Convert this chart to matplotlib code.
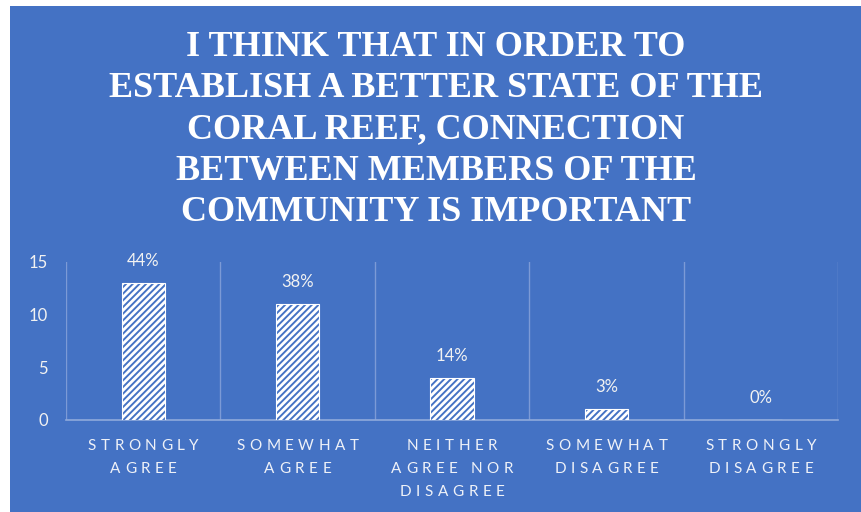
import matplotlib.pyplot as plt
import numpy as np
from matplotlib.patches import Rectangle
from matplotlib.font_manager import FontProperties
from matplotlib.transforms import blended_transform_factory, ScaledTranslation

# survey responses
categories = ['STRONGLY\nAGREE', 'SOMEWHAT\nAGREE', 'NEITHER\nAGREE NOR\nDISAGREE',
              'SOMEWHAT\nDISAGREE', 'STRONGLY\nDISAGREE']
counts = [13, 11, 4, 1, 0]
pct_labels = ['44%', '38%', '14%', '3%', '0%']
yticks = [0, 5, 10, 15]

title = ('I THINK THAT IN ORDER TO\nESTABLISH A BETTER STATE OF THE\nCORAL REEF, CONNECTION\n'
         'BETWEEN MEMBERS OF THE\nCOMMUNITY IS IMPORTANT')

blue = '#4472C4'
plt.rcParams['hatch.linewidth'] = 2.0
plt.rcParams['hatch.color'] = 'white'

fig = plt.figure(figsize=(8.62, 5.12), dpi=100, facecolor='white')
fig.patches.append(Rectangle((10 / 862, 0), 852 / 862, 506 / 512, transform=fig.transFigure,
                             facecolor=blue, edgecolor='none', zorder=-1))

fig.text(436 / 862, 1 - 130 / 512, title, ha='center', va='center', color='white',
         fontsize=26, fontweight='bold', family='Liberation Serif', linespacing=1.33)

ax = fig.add_axes([66 / 862, 1 - 420 / 512, 772 / 862, 158 / 512])
ax.set_facecolor('none')

x = np.arange(len(counts))
ax.bar(x, counts, width=0.28, color=blue, edgecolor='white', linewidth=0.8, hatch='/////', zorder=3)

for xi, c, lab in zip(x, counts, pct_labels):
    ax.annotate(lab, (xi, c), xytext=(0, 16), textcoords='offset points', ha='center', va='center',
                color='#F2F2F2', fontsize=12, family='Lato')

ax.set_xlim(-0.5, len(counts) - 0.5)
ax.set_ylim(0, 15)
ax.set_yticks(yticks)
ax.set_yticklabels([str(t) for t in yticks], color='#F2F2F2', fontsize=12, family='Lato')
ax.tick_params(axis='y', length=0, pad=13)
ax.set_xticks([])
ax.set_xticks(np.arange(-0.5, len(counts)), minor=True)
ax.tick_params(axis='x', which='minor', length=0)
ax.grid(axis='x', which='minor', color='#7C9AD6', linewidth=1, zorder=1)

for side in ['top', 'left', 'right']:
    ax.spines[side].set_visible(False)
ax.spines['bottom'].set_color('#8FAADC')
ax.spines['bottom'].set_linewidth(1.2)

# category labels drawn letter by letter to get the wide tracking
renderer = fig.canvas.get_renderer()
fp = FontProperties(family='Lato', size=11)
tracking = 4.5
line_step = 23
base = blended_transform_factory(ax.transData, ax.transAxes)
for xi, lab in zip(x, categories):
    for li, line in enumerate(lab.split('\n')):
        widths = [renderer.get_text_width_height_descent(ch, fp, ismath=False)[0] for ch in line]
        total = sum(widths) + tracking * (len(line) - 1)
        pos = -total / 2
        dy = -(26 + li * line_step)
        for ch, w in zip(line, widths):
            tr = base + ScaledTranslation(pos / fig.dpi, dy / fig.dpi, fig.dpi_scale_trans)
            ax.text(xi, 0, ch, transform=tr, ha='left', va='center', fontproperties=fp,
                    color='#EEF1F8', clip_on=False)
            pos += w + tracking

fig.savefig('out.png', dpi=100, facecolor='white')
